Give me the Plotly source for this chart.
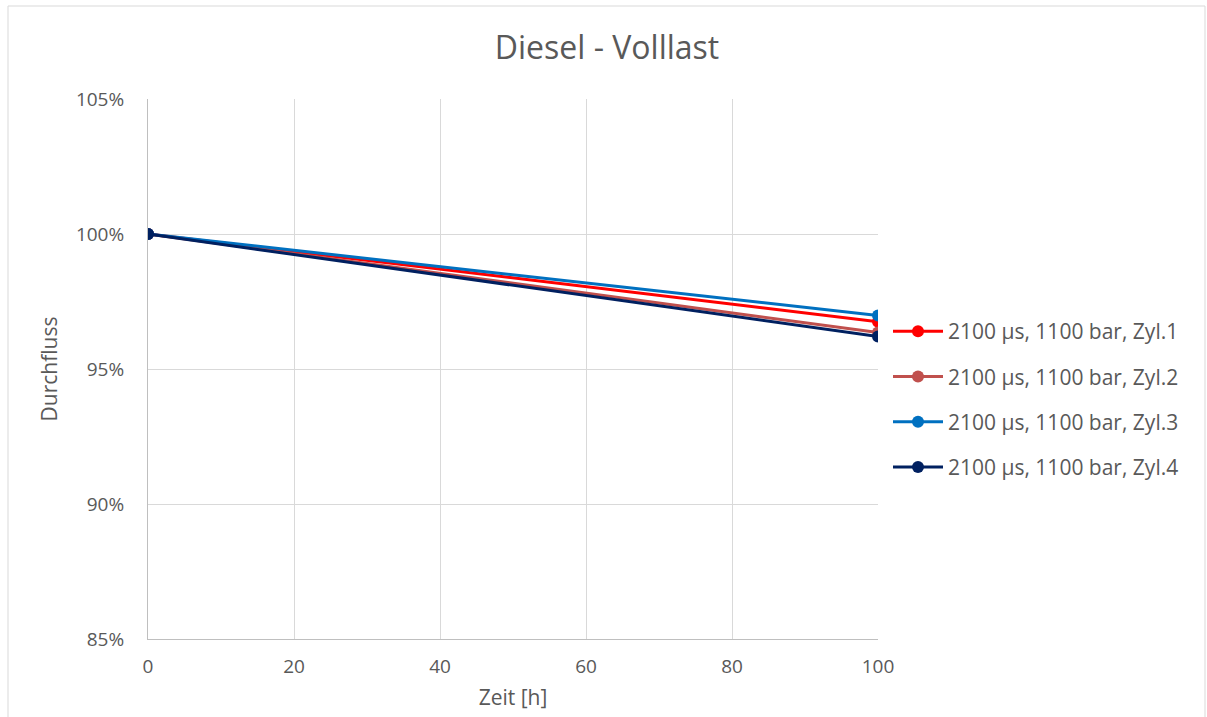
import plotly.graph_objects as go

zeit = [0, 100]
series_names = ["2100 µs, 1100 bar, Zyl.1", "2100 µs, 1100 bar, Zyl.2",
                "2100 µs, 1100 bar, Zyl.3", "2100 µs, 1100 bar, Zyl.4"]
zyl1 = [1.0, 0.9675]
zyl2 = [1.0, 0.9635]
zyl3 = [1.0, 0.9698]
zyl4 = [1.0, 0.9620]
colors = ["#FF0000", "#C0504D", "#0070C0", "#002060"]

W, H = 1207, 717
L, R, T, B = 148, 329, 99, 78
pw, ph = W - L - R, H - T - B

fig = go.Figure()
for name, vals, col in zip(series_names, [zyl1, zyl2, zyl3, zyl4], colors):
    fig.add_trace(go.Scatter(x=zeit, y=vals, name=name, mode="lines+markers",
                             line=dict(color=col, width=3),
                             marker=dict(color=col, size=12),
                             legendgroup=name))

def px_x(p):
    return (p - L) / pw

def px_y(p):
    return (H - B - p) / ph

font_family = "Open Sans, Liberation Sans, sans-serif"
fig.update_layout(
    width=W, height=H,
    margin=dict(l=L, r=R, t=T, b=B),
    paper_bgcolor="white", plot_bgcolor="white",
    font=dict(family=font_family, color="#595959", size=19),
    title=dict(text="Diesel - Volllast", xref="container", x=607 / W, xanchor="center",
               yref="container", y=1 - 48 / H, yanchor="middle",
               font=dict(size=32, color="#595959")),
    xaxis=dict(range=[0, 100], dtick=20, tick0=0, showgrid=True,
               gridcolor="#D9D9D9", gridwidth=1, zeroline=False,
               showline=True, linecolor="#BFBFBF", linewidth=1,
               ticks="", ticklabelstandoff=10, tickfont=dict(size=19),
               title=dict(text="Zeit [h]", font=dict(size=21, color="#595959"), standoff=12)),
    yaxis=dict(range=[0.85, 1.05], dtick=0.05, tick0=0.85, tickformat=".0%",
               showgrid=True, gridcolor="#D9D9D9", gridwidth=1, zeroline=False,
               showline=True, linecolor="#BFBFBF", linewidth=1,
               ticks="", ticklabelstandoff=19, tickfont=dict(size=19),
               title=dict(text="Durchfluss", font=dict(size=21, color="#595959"), standoff=12)),
    legend=dict(x=px_x(888), xanchor="left", y=px_y(311), yanchor="top",
                font=dict(size=21, color="#595959"), tracegroupgap=15,
                itemwidth=50, bgcolor="rgba(0,0,0,0)"),
    showlegend=True,
)

fig.add_shape(type="rect", xref="paper", yref="paper",
              x0=px_x(8), x1=px_x(1205), y0=px_y(730), y1=px_y(6),
              line=dict(color="#D9D9D9", width=1), fillcolor="rgba(0,0,0,0)", layer="below")

fig.write_html("out.html")
